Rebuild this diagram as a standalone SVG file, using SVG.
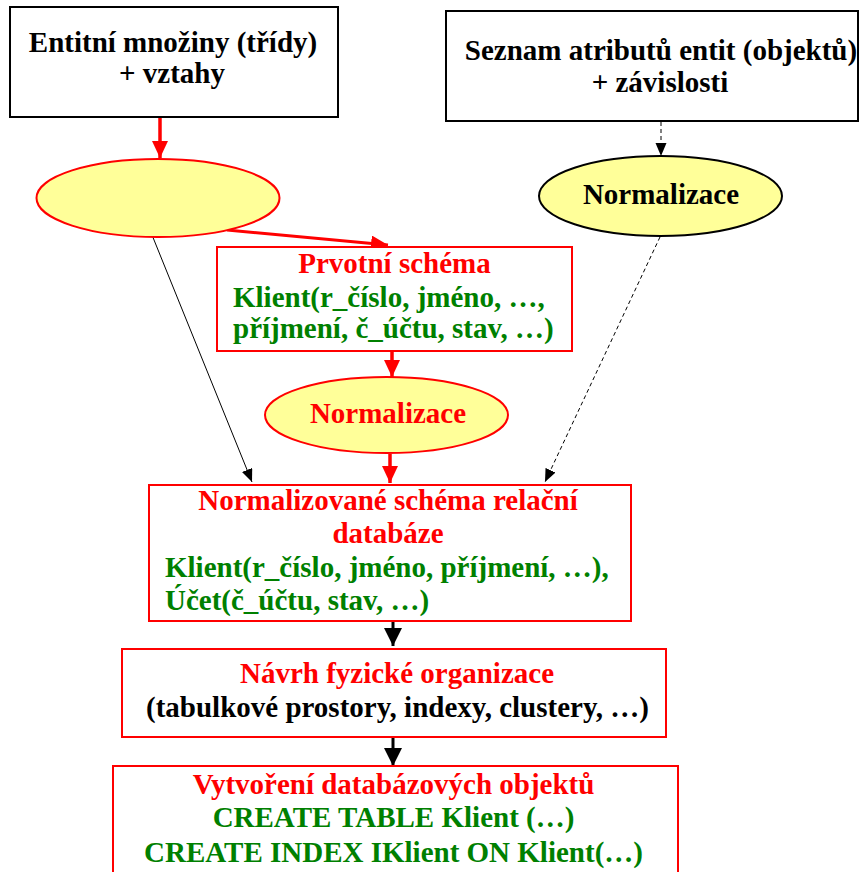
<svg xmlns="http://www.w3.org/2000/svg" width="864" height="872" viewBox="0 0 864 872">
<style>
.c{text-anchor:middle}
.k{fill:#000}
.r{fill:#FF0000}
.g{fill:#008000}
.bb{fill:#fff;stroke:#000;stroke-width:2}
.rb{fill:#fff;stroke:#FF0000;stroke-width:2}
.ey{fill:#FFFF99;stroke-width:2}
</style>
<defs>
<marker id="ar" markerUnits="userSpaceOnUse" markerWidth="18" markerHeight="18" refX="17" refY="8" orient="auto">
<path d="M0,0 L17,8 L0,16 z" fill="#FF0000"/>
</marker>
<marker id="ak" markerUnits="userSpaceOnUse" markerWidth="14" markerHeight="12" refX="13" refY="5.5" orient="auto">
<path d="M0,0 L13,5.5 L0,11 z" fill="#000"/>
</marker>
<marker id="akb" markerUnits="userSpaceOnUse" markerWidth="19" markerHeight="19" refX="18" refY="9" orient="auto">
<path d="M0,0 L18,9 L0,18 z" fill="#000"/>
</marker>
</defs>
<g id="connectors">
<line x1="160" y1="118" x2="160" y2="158" stroke="#FF0000" stroke-width="3.5" marker-end="url(#ar)"/>
<line x1="661" y1="122" x2="661" y2="156" stroke="#000" stroke-width="1" stroke-dasharray="4,3" marker-end="url(#ak)"/>
<line x1="227" y1="230" x2="388" y2="245" stroke="#FF0000" stroke-width="3" marker-end="url(#ar)"/>
<line x1="392" y1="352" x2="392" y2="377" stroke="#FF0000" stroke-width="3.5" marker-end="url(#ar)"/>
<line x1="152" y1="235" x2="252" y2="482" stroke="#000" stroke-width="1" marker-end="url(#ak)"/>
<line x1="660" y1="237" x2="545" y2="482" stroke="#000" stroke-width="1" stroke-dasharray="4,3" marker-end="url(#ak)"/>
<line x1="390" y1="454" x2="390" y2="483" stroke="#FF0000" stroke-width="3.5" marker-end="url(#ar)"/>
<line x1="393" y1="622" x2="393" y2="646" stroke="#000" stroke-width="3" marker-end="url(#akb)"/>
<line x1="393" y1="738" x2="393" y2="766" stroke="#000" stroke-width="3" marker-end="url(#akb)"/>
</g>
<g font-family="Liberation Serif, Times New Roman, serif" font-weight="bold" font-size="29">
<g id="n1">
<rect class="bb" x="10" y="7" width="328" height="110"/>
<text class="c k" x="173" y="52">Entitní množiny (třídy)</text>
<text class="c k" x="172" y="83">+ vztahy</text>
</g>
<g id="n2">
<rect class="bb" x="446" y="11" width="412" height="110"/>
<text class="c k" x="661" y="60">Seznam atributů entit (objektů)</text>
<text class="c k" x="660" y="92">+ závislosti</text>
</g>
<g id="n3">
<ellipse class="ey" cx="158" cy="198" rx="121.5" ry="39" stroke="#FF0000"/>
</g>
<g id="n4">
<ellipse class="ey" cx="660.5" cy="196" rx="121.5" ry="40" stroke="#000"/>
<text class="c k" x="661" y="204">Normalizace</text>
</g>
<g id="n5">
<rect class="rb" x="217" y="247" width="355" height="104"/>
<text class="c r" x="394.5" y="273">Prvotní schéma</text>
<text class="g" x="233" y="307">Klient(r_číslo, jméno, …,</text>
<text class="g" x="233" y="338">příjmení, č_účtu, stav, …)</text>
</g>
<g id="n6">
<ellipse class="ey" cx="386.5" cy="415" rx="121.5" ry="38" stroke="#FF0000"/>
<text class="c r" x="388" y="423">Normalizace</text>
</g>
<g id="n7">
<rect class="rb" x="149" y="485" width="482" height="136"/>
<text class="c r" x="388" y="510">Normalizované schéma relační</text>
<text class="c r" x="388" y="543">databáze</text>
<text class="g" x="165" y="577">Klient(r_číslo, jméno, příjmení, …),</text>
<text class="g" x="165" y="610">Účet(č_účtu, stav, …)</text>
</g>
<g id="n8">
<rect class="rb" x="122" y="649" width="544" height="88"/>
<text class="c r" x="397" y="683">Návrh fyzické organizace</text>
<text class="c k" x="397.5" y="717">(tabulkové prostory, indexy, clustery, …)</text>
</g>
<g id="n9">
<rect class="rb" x="113" y="766" width="565" height="120"/>
<text class="c r" x="393.5" y="794">Vytvoření databázových objektů</text>
<text class="c g" x="393.5" y="827">CREATE TABLE Klient (…)</text>
<text class="c g" x="393.5" y="862">CREATE INDEX IKlient ON Klient(…)</text>
</g>
</g>
</svg>
